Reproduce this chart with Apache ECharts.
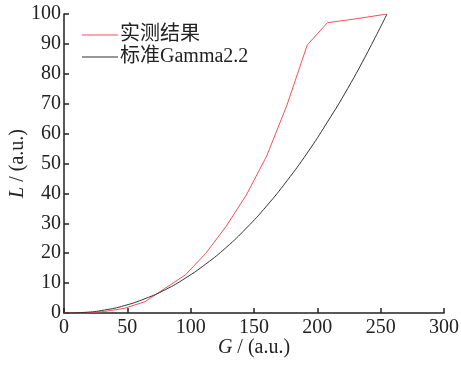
<!DOCTYPE html>
<html><head><meta charset="utf-8">
<script src="https://cdn.jsdelivr.net/npm/echarts@6/dist/echarts.min.js"></script>
<style>html,body{margin:0;padding:0;background:#fff}#c{width:461px;height:365px}</style>
</head><body><div id="c"></div>
<script>
const seriesNames = ['实测结果', '标准Gamma2.2'];
const measuredG = [0,16,32,48,64,80,96,112,128,144,160,176,192,208,224,240,255];
const measuredL = [0,0,0.5,1.6,3.8,8.3,12.8,20,29,39.5,52.5,69.5,89.6,97.1,98,99,100];
const gammaG = [0,16,32,48,64,80,96,112,128,144,160,176,192,208,224,240,255];
const gammaL = [0,0.2,1.0,2.5,4.8,7.8,11.7,16.4,21.9,28.4,35.8,44.2,53.5,63.9,75.1,87.5,100];
const xTicks = [0,50,100,150,200,250,300];
const yTicks = [0,10,20,30,40,50,60,70,80,90,100];

const font = "'Liberation Serif','Noto Sans CJK SC',serif";
const chart = echarts.init(document.getElementById('c'));
chart.setOption({
  animation: false,
  backgroundColor: '#fff',
  grid: {left: 64, right: 17, top: 14, bottom: 52, containLabel: false, outerBoundsMode: 'none'},
  legend: {
    left: 77, top: 19, orient: 'vertical', itemGap: 0,
    itemWidth: 36, itemHeight: 1, icon: 'rect',
    textStyle: {fontFamily: font, fontSize: 20, lineHeight: 22, color: '#222', padding: [0, 0, 0, -3]},
    data: seriesNames
  },
  xAxis: {
    type: 'value', min: 0, max: 300, interval: 50,
    name: '{i|G} / (a.u.)', nameLocation: 'middle', nameGap: 25, nameMoveOverlap: false,
    nameTextStyle: {fontFamily: font, fontSize: 20, color: '#222',
      rich: {i: {fontFamily: font, fontStyle: 'italic', fontSize: 20, color: '#222'}}},
    axisLine: {lineStyle: {color: '#222', width: 1.5}},
    axisTick: {inside: true, length: 5, lineStyle: {color: '#222', width: 1.5}},
    axisLabel: {fontFamily: font, fontSize: 20, color: '#222', margin: 5,
      formatter: v => xTicks.includes(v) ? String(v) : ''},
    splitLine: {show: false}
  },
  yAxis: {
    type: 'value', min: 0, max: 100, interval: 10,
    name: '{i|L} / (a.u.)', nameLocation: 'middle', nameGap: 36, nameRotate: 90, nameMoveOverlap: false,
    nameTextStyle: {fontFamily: font, fontSize: 20, color: '#222',
      rich: {i: {fontFamily: font, fontStyle: 'italic', fontSize: 20, color: '#222'}}},
    axisLine: {show: true, lineStyle: {color: '#222', width: 1.5}},
    axisTick: {show: true, inside: true, length: 5, lineStyle: {color: '#222', width: 1.5}},
    axisLabel: {fontFamily: font, fontSize: 20, color: '#222', margin: 3,
      formatter: v => yTicks.includes(v) ? String(v) : ''},
    splitLine: {show: false}
  },
  series: [
    {name: seriesNames[0], type: 'line', symbol: 'none',
     data: measuredG.map((g, i) => [g, measuredL[i]]),
     lineStyle: {color: '#f4505c', width: 1}, itemStyle: {color: '#f4505c'}},
    {name: seriesNames[1], type: 'line', symbol: 'none', smooth: true,
     data: gammaG.map((g, i) => [g, gammaL[i]]),
     lineStyle: {color: '#333', width: 1}, itemStyle: {color: '#333'}}
  ]
});
</script></body></html>
